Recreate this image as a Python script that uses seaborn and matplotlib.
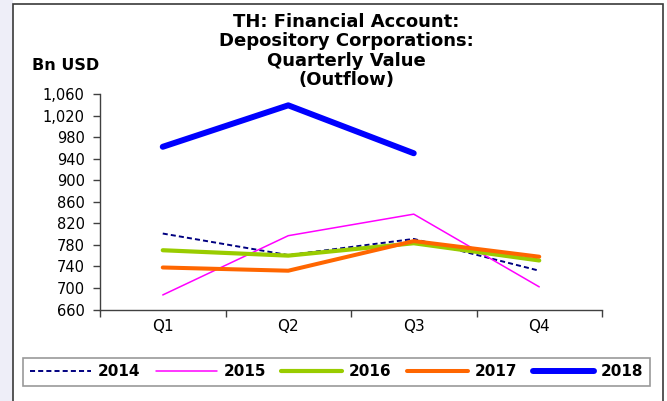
import numpy as np
import pandas as pd
import matplotlib
matplotlib.use("Agg")
import matplotlib.pyplot as plt
import seaborn as sns
from matplotlib.patches import Rectangle
from matplotlib.ticker import FuncFormatter, FixedLocator

# Quarterly outflow values, Bn USD
quarters = ["Q1", "Q2", "Q3", "Q4"]
years = ["2014", "2015", "2016", "2017", "2018"]
v2014 = [801, 761, 791, 732]
v2015 = [687, 797, 837, 702]
v2016 = [770, 760, 783, 751]
v2017 = [738, 732, 787, 758]
v2018 = [962, 1039, 950, np.nan]
y_ticks = [660, 700, 740, 780, 820, 860, 900, 940, 980, 1020, 1060]
title_lines = ["TH: Financial Account:", "Depository Corporations:",
               "Quarterly Value", "(Outflow)"]

series = {"2014": v2014, "2015": v2015, "2016": v2016, "2017": v2017, "2018": v2018}
styles = {
    "2014": dict(color="#000080", lw=1.4, ls=(0, (2.6, 1.6))),
    "2015": dict(color="#ff00ff", lw=1.1, ls="-"),
    "2016": dict(color="#99cc00", lw=3.0, ls="-"),
    "2017": dict(color="#ff6600", lw=2.9, ls="-"),
    "2018": dict(color="#0000ff", lw=4.3, ls="-"),
}

rows = []
for yr in years:
    for i, q in enumerate(quarters):
        rows.append({"year": yr, "pos": i, "quarter": q, "value": series[yr][i]})
df = pd.DataFrame(rows)

sns.set_theme(style="white")
plt.rcParams["font.family"] = ["DejaVu Sans"]
plt.rcParams["text.color"] = "black"
plt.rcParams["xtick.labelcolor"] = "black"
plt.rcParams["ytick.labelcolor"] = "black"

W, H = 667, 401
fig = plt.figure(figsize=(W / 100, H / 100), dpi=100)
fig.patch.set_facecolor("white")

# pale side band and outer frame
fig.add_artist(Rectangle((0, 0), 13 / W, 1, transform=fig.transFigure,
                         facecolor="#eeeef8", edgecolor="none", zorder=0))
fig.add_artist(Rectangle((13.5 / W, -0.1), (662.5 - 13.5) / W, 1.1 - 4 / H,
                         transform=fig.transFigure, facecolor="none",
                         edgecolor="#3a3a3a", lw=1.2, zorder=1))

ax = fig.add_axes([100 / W, (H - 309.5) / H, (602 - 100) / W, (309.5 - 94) / H])
ax.set_facecolor("none")

for yr in years:
    st = styles[yr]
    sub = df[df["year"] == yr].dropna(subset=["value"])
    sns.lineplot(data=sub, x="pos", y="value", ax=ax, color=st["color"],
                 linewidth=st["lw"], linestyle=st["ls"], label=yr,
                 solid_capstyle="round", legend=False)

ax.set_xlim(-0.5, 3.5)
ax.set_ylim(660, 1060)
ax.set_xlabel("")
ax.set_ylabel("")

# x: ticks on category boundaries, labels centred in each category
ax.xaxis.set_major_locator(FixedLocator([-0.5, 0.5, 1.5, 2.5, 3.5]))
ax.xaxis.set_minor_locator(FixedLocator(range(len(quarters))))
ax.set_xticklabels([], minor=False)
ax.set_xticklabels(quarters, minor=True, fontsize=11)
ax.tick_params(axis="x", which="major", direction="out", length=5, width=1,
               color="#404040", bottom=True)
ax.tick_params(axis="x", which="minor", length=0, pad=7, bottom=True,
               labelcolor="black")

ax.set_yticks(y_ticks)
ax.yaxis.set_major_formatter(FuncFormatter(lambda v, p: f"{int(v):,}"))
ax.tick_params(axis="y", direction="out", length=5, width=1, color="#404040",
               labelsize=10.5, pad=6, left=True, labelcolor="black")

for s in ["top", "right"]:
    ax.spines[s].set_visible(False)
for s in ["left", "bottom"]:
    ax.spines[s].set_color("#404040")
    ax.spines[s].set_linewidth(1.0)

# title, one line per baseline
for k, line in enumerate(title_lines):
    fig.text(346 / W, (H - (27 + 19.3 * k)) / H, line, ha="center", va="baseline",
             fontsize=13, fontweight="bold", color="black")
fig.text(32 / W, (H - 70) / H, "Bn USD", ha="left", va="baseline",
         fontsize=11.5, fontweight="bold", color="black")

leg_handles = [plt.Line2D([], [], color=styles[y]["color"], lw=styles[y]["lw"],
                          ls=styles[y]["ls"], solid_capstyle="round") for y in years]
leg = fig.legend(leg_handles, years, ncol=5, loc="center",
                 bbox_to_anchor=(23 / W, (H - 388) / H, (650 - 23) / W, 32 / H),
                 mode="expand", frameon=True, fancybox=False, edgecolor="#808080",
                 prop={"weight": "bold", "size": 11}, handlelength=4.0,
                 handletextpad=0.45, columnspacing=0.5, borderaxespad=0,
                 borderpad=0.45, labelcolor="black")
leg.get_frame().set_linewidth(1.2)

fig.savefig("out.png", dpi=100, facecolor=fig.get_facecolor())
